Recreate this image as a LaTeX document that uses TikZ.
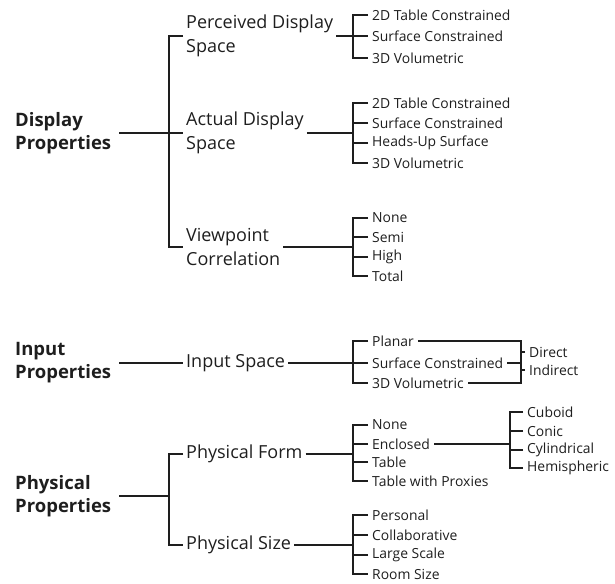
\documentclass[tikz,border=0pt]{standalone}
\usepackage{fontspec}
\setmainfont{Open Sans}
\definecolor{ink}{HTML}{1E1E1E}
\begin{document}
\begin{tikzpicture}[x=1pt,y=-1pt,
  every node/.style={text=ink},
  topnode/.style={font=\bfseries\fontsize{18.5}{23}\selectfont, align=left, anchor=west, inner xsep=8pt, inner ysep=0pt},
  mainnode/.style={font=\fontsize{18}{24}\selectfont, align=left, anchor=west, inner xsep=3pt, inner ysep=0pt},
  leaf/.style={font=\fontsize{13.9}{16}\selectfont, anchor=west, inner xsep=4pt, inner ysep=0pt},
  heavy/.style={draw=ink, line width=1.8pt},
  light/.style={draw=ink, line width=1.1pt}]
\useasboundingbox (0,0) rectangle (615,583);

% ---------- Display Properties ----------
\node[topnode] (dp) at (7,133) {Display\\Properties};
\coordinate (b1) at (169,133);
\node[mainnode] (pds) at (183,36) {Perceived Display\\Space};
\node[mainnode] (ads) at (183,133) {Actual Display\\Space};
\node[mainnode] (vc)  at (183,247) {Viewpoint\\Correlation};
\draw[heavy] (dp.east) -- (b1);
\draw[heavy] (pds.west) -| (b1) |- (vc.west);
\draw[heavy] (b1) -- (ads.west);

% Perceived display space leaves
\coordinate (b2) at (353,36);
\node[leaf] (p1) at (368,15) {2D Table Constrained};
\node[leaf] (p2) at (368,36) {Surface Constrained};
\node[leaf] (p3) at (368,58) {3D Volumetric};
\draw[light] (pds.east) -- (b2);
\draw[light] (p1.west) -| (b2) |- (p3.west);
\draw[light] (b2) -- (p2.west);

% Actual display space leaves
\coordinate (b3) at (353,133);
\node[leaf] (a1) at (368,103) {2D Table Constrained};
\node[leaf] (a2) at (368,123) {Surface Constrained};
\node[leaf] (a3) at (368,143) {Heads-Up Surface};
\node[leaf] (a4) at (368,163) {3D Volumetric};
\draw[light] (ads.east) -- (b3);
\draw[light] (a1.west) -| (b3) |- (a4.west);
\draw[light] (a2.west) -- (a2.west -| b3);
\draw[light] (a3.west) -- (a3.west -| b3);

% Viewpoint correlation leaves
\coordinate (b4) at (353,247);
\node[leaf] (v1) at (368,218) {None};
\node[leaf] (v2) at (368,237) {Semi};
\node[leaf] (v3) at (368,257) {High};
\node[leaf] (v4) at (368,276) {Total};
\draw[light] (vc.east) -- (b4);
\draw[light] (v1.west) -| (b4) |- (v4.west);
\draw[light] (v2.west) -- (v2.west -| b4);
\draw[light] (v3.west) -- (v3.west -| b4);

% ---------- Input Properties ----------
\node[topnode] (ip) at (7,363) {Input\\Properties};
\node[mainnode] (is) at (183,363) {Input Space};
\draw[heavy] (ip.east) -- (is.west);
\coordinate (b5) at (353,363);
\node[leaf] (i1) at (368,341) {Planar};
\node[leaf] (i2) at (368,363) {Surface Constrained};
\node[leaf] (i3) at (368,383) {3D Volumetric};
\draw[light] (is.east) -- (b5);
\draw[light] (i1.west) -| (b5) |- (i3.west);
\draw[light] (b5) -- (i2.west);
\coordinate (dj) at (521,363);
\draw[light] (i1.east) -| (dj) |- (i3.east);
\draw[light] (i2.east) -- (dj);
\node[leaf] (dir) at (525,352) {Direct};
\node[leaf] (ind) at (525,370) {Indirect};
\draw[light] (dir.west) -- (dir.west -| dj);
\draw[light] (ind.west) -- (ind.west -| dj);

% ---------- Physical Properties ----------
\node[topnode] (pp) at (7,496) {Physical\\Properties};
\coordinate (b6) at (169,496);
\node[mainnode] (pf) at (183,454) {Physical Form};
\node[mainnode] (ps) at (183,545) {Physical Size};
\draw[heavy] (pp.east) -- (b6);
\draw[heavy] (pf.west) -| (b6) |- (ps.west);

% Physical form leaves
\coordinate (b7) at (353,454);
\node[leaf] (f1) at (368,425) {None};
\node[leaf] (f2) at (368,444) {Enclosed};
\node[leaf] (f3) at (368,462) {Table};
\node[leaf] (f4) at (368,481) {Table with Proxies};
\draw[light] (pf.east) -- (b7);
\draw[light] (f1.west) -| (b7) |- (f4.west);
\draw[light] (f2.west) -- (f2.west -| b7);
\draw[light] (f3.west) -- (f3.west -| b7);

% Enclosed sub-leaves
\coordinate (b8) at (510,444);
\node[leaf] (e1) at (523,412) {Cuboid};
\node[leaf] (e2) at (523,431) {Conic};
\node[leaf] (e3) at (523,450) {Cylindrical};
\node[leaf] (e4) at (523,468) {Hemispheric};
\draw[light] (f2.east) -- (b8);
\draw[light] (e1.west) -| (b8) |- (e4.west);
\draw[light] (e2.west) -- (e2.west -| b8);
\draw[light] (e3.west) -- (e3.west -| b8);

% Physical size leaves
\coordinate (b9) at (353,545);
\node[leaf] (s1) at (368,515) {Personal};
\node[leaf] (s2) at (368,535) {Collaborative};
\node[leaf] (s3) at (368,555) {Large Scale};
\node[leaf] (s4) at (368,574) {Room Size};
\draw[light] (ps.east) -- (b9);
\draw[light] (s1.west) -| (b9) |- (s4.west);
\draw[light] (s2.west) -- (s2.west -| b9);
\draw[light] (s3.west) -- (s3.west -| b9);
\end{tikzpicture}
\end{document}
